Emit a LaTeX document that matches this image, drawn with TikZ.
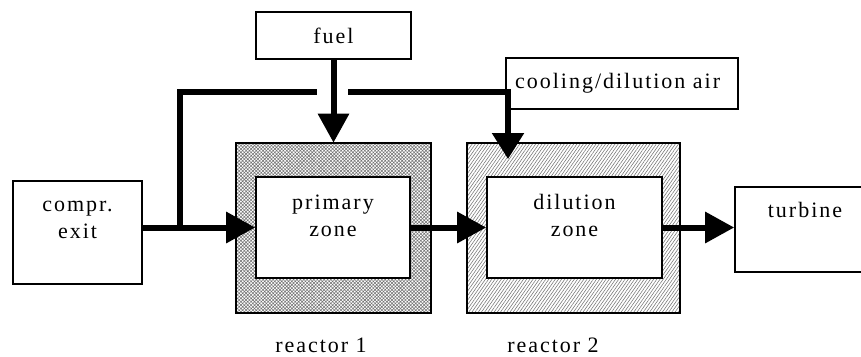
\documentclass[tikz,border=0pt]{standalone}
\usepackage{fontspec}
\setmainfont{Liberation Serif}[LetterSpace=9]
\usetikzlibrary{arrows.meta,patterns.meta}
\begin{document}
\begin{tikzpicture}[x=1pt,y=-1pt,
  box/.style={draw, line width=1.6pt, fill=white, inner sep=0pt},
  lbl/.style={font=\fontsize{22}{27}\selectfont, align=center, inner sep=0pt},
  shell/.style={draw, line width=2pt, inner sep=0pt, minimum height=170pt},
  flow/.style={line width=6pt, -{Triangle[length=29pt,width=30pt]}},
  airline/.style={line width=5.5pt},
]
\fill[white] (0,0) rectangle (861,356);
\useasboundingbox (0,0) rectangle (861,356);

% reactor shells
\node[shell, minimum width=195pt,
      pattern={Hatch[angle=45,distance=2.4pt,line width=0.55pt]}, pattern color=black!55]
      (r1) at (333.5,228) {};
\node[shell, minimum width=213pt,
      pattern={Lines[angle=55,distance=2.6pt,line width=0.55pt]}, pattern color=black!55]
      (r2) at (573.5,228) {};

% boxes
\node[box, minimum width=155pt, minimum height=47pt] (fuel) at (333.5,35.5) {};
\node[box, minimum width=232pt, minimum height=51pt] (cool) at (622,83.5) {};
\node[box, minimum width=129pt, minimum height=103pt] (compr) at (77.5,232.5) {};
\node[box, minimum width=154pt, minimum height=101pt] (prim) at (333,227.5) {};
\node[box, minimum width=175pt, minimum height=101pt] (dil) at (574.5,227.5) {};
\node[box, minimum width=140pt, minimum height=85pt] (turb) at (805,229.5) {};

% texts (base anchor sits on the last line)
\node[lbl, anchor=base] (fueltxt) at (333.5,43) {fuel};
\node[lbl, anchor=base west] (cooltxt) at (515,88) {cooling/dilution air};
\node[lbl, anchor=base] (comprtxt) at (77.5,238) {compr.\\exit};
\node[lbl, anchor=base] (primtxt) at (333,236) {primary\\zone};
\node[lbl, anchor=base] (diltxt) at (574.5,236) {dilution\\zone};
\node[lbl, anchor=base] (turbtxt) at (805,217) {turbine};
\node[lbl, anchor=base] (r1txt) at (321,352) {reactor 1};
\node[lbl, anchor=base] (r2txt) at (553,352) {reactor 2};

% air supply branch
\coordinate (split) at (180,227.5);
\coordinate (bridgeL) at (317,92);
\coordinate (bridgeR) at (348,92);
\coordinate (coolin) at (508,159);
\draw[airline] (split) |- (bridgeL);
\draw[airline, -{Triangle[length=26pt,width=31pt]}] (bridgeR) -| (coolin);

% main flow
\draw[flow] (fuel.south) -- (fuel.south |- r1.north);
\draw[flow] (compr.east |- prim.west) -- (prim.west);
\draw[flow] (prim.east) -- (dil.west);
\draw[flow] (dil.east) -- (dil.east -| turb.west);
\end{tikzpicture}
\end{document}
